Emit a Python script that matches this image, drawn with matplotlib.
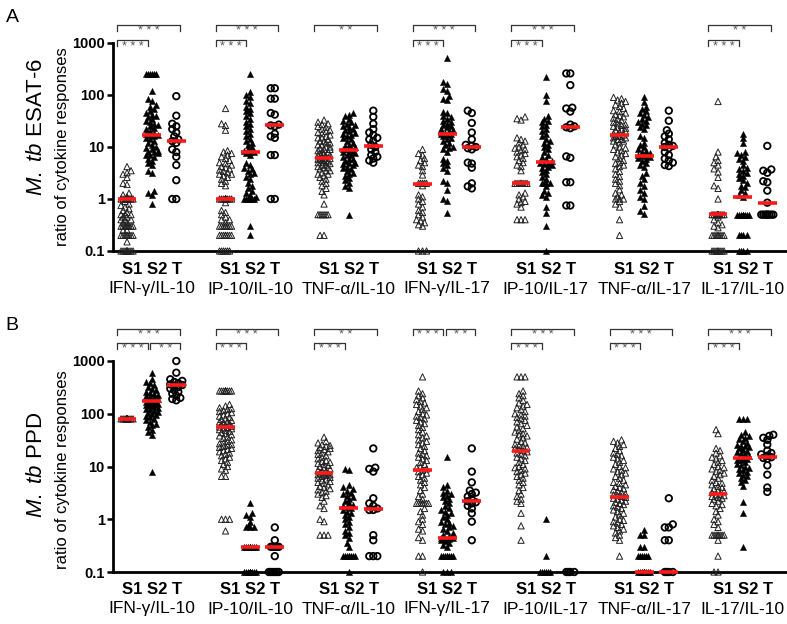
import numpy as np
import matplotlib.pyplot as plt
from matplotlib import rcParams
from matplotlib.ticker import NullLocator
from matplotlib.transforms import blended_transform_factory

rcParams["font.family"] = "Liberation Sans"
rcParams["mathtext.fontset"] = "custom"
rcParams["mathtext.rm"] = "Liberation Sans"
rcParams["mathtext.it"] = "Liberation Sans:italic"

ratios = ["IFN-γ/IL-10", "IP-10/IL-10", "TNF-α/IL-10", "IFN-γ/IL-17",
          "IP-10/IL-17", "TNF-α/IL-17", "IL-17/IL-10"]
groups = ["S1", "S2", "T"]

# ---- panel A: M. tb ESAT-6 ----
a1_s1 = [4.2, 3.5, 3.2, 3.0, 2.6, 2.0, 1.9, 1.3, 1.2, 1.1] + [1.0] * 18 + \
    [0.9, 0.8, 0.75, 0.7, 0.65, 0.6, 0.55, 0.5, 0.5, 0.5, 0.45, 0.45, 0.4, 0.4, 0.4, 0.35, 0.35] + \
    [0.3] * 8 + [0.25, 0.25] + [0.2] * 8 + [0.15] + [0.1] * 10
a1_s2 = [250] * 6 + [120, 85, 75, 65, 60, 55, 50, 45, 42, 40, 38, 35, 32, 30, 28, 26, 25, 23, 22, 20,
                     19, 18, 17, 17, 16, 15, 14, 13, 12, 11, 10, 9.5, 9, 8.5, 8, 8, 7.5, 7, 7, 6.5,
                     6, 5.5, 5, 4.5, 3.5, 3.2, 1.4, 1.3, 1.2, 0.8]
a1_t = [95, 40, 28, 25, 22, 19, 16, 14, 13, 12, 9, 8, 6.5, 4.5, 2.3, 1.0, 1.0]

a2_s1 = [55, 28, 26, 21, 8.5, 8, 7.5, 7, 6.5, 6, 5.5, 5, 4.8, 4.5, 4.2, 4, 3.8, 3.6, 3.4, 3.2, 3, 3,
         2.8, 2.6, 2.4, 2.2, 2, 1.8] + [1.0] * 18 + [0.85, 0.6, 0.55, 0.5, 0.45, 0.4, 0.4, 0.35] + \
    [0.3] * 8 + [0.2] * 8 + [0.1] * 6
a2_s2 = [250, 115, 100, 90, 75, 70, 60, 55, 50, 45, 40, 35, 30, 28, 25, 22, 20, 18, 16, 14, 13, 12,
         11, 10, 9, 8.5, 8, 8, 7.5, 7, 5, 4.5, 4, 3.8, 3.5, 3.2, 3, 2.7, 2.4, 2, 1.8, 1.6, 1.4, 1.3,
         1.2, 1.1] + [1.0] * 6 + [0.3, 0.2]
a2_t = [135, 135, 85, 85, 45, 42, 27, 26, 25, 18, 16, 15, 7, 7, 1, 1]

a3_s1 = [33, 30, 28, 27, 25, 24, 22, 21, 20, 19, 18, 17, 16, 15, 15, 14, 13, 13, 12, 12, 11, 11, 10,
         10, 9.5, 9, 9, 8.5, 8, 8, 7.5, 7.5, 7, 7, 6.5, 6.5, 6, 6, 6, 5.8, 5.5, 5.5, 5.2, 5, 5, 4.8,
         4.5, 4.5, 4.2, 4, 4, 3.8, 3.5, 3.5, 3.2, 3, 3, 2.8, 2.6, 2.4, 2.2, 2, 1.8, 1.6, 1.4, 1.2,
         0.8] + [0.5] * 6 + [0.2, 0.2]
a3_s2 = [45, 42, 40, 35, 32, 30, 28, 26, 25, 24, 22, 21, 20, 19, 18, 17, 16, 15, 14, 13, 12, 11,
         10.5, 10, 9.5, 9, 9, 8.5, 8, 8, 7.5, 7, 7, 6.5, 6, 6, 5.5, 5, 5, 4.8, 4.5, 4.2, 4, 3.8, 3.5,
         3.2, 3, 2.8, 2.5, 2.3, 2, 1.8, 1.6, 0.5]
a3_t = [50, 38, 28, 22, 19, 17, 15, 14, 13, 11, 10, 9, 8, 7, 6.5, 6, 5.5, 5]

a4_s1 = [9, 7.5, 7, 6, 5.5, 5, 4.5, 4.2, 3.5, 2.9, 2.0, 2.0, 2.0, 2.0, 2.0, 1.8, 1.2, 1.1, 1.0, 0.9,
         0.8, 0.7, 0.6, 0.55, 0.5, 0.45, 0.4, 0.38, 0.35, 0.32, 0.3, 0.1, 0.1, 0.1]
a4_s2 = [520, 180, 160, 130, 120, 95, 85, 80, 48, 45, 40, 38, 35, 32, 30, 28, 26, 25, 24, 22, 21, 20,
         19, 18, 18, 17, 16, 15, 14, 13, 12, 11, 10, 9.5, 9, 8, 6, 5.5, 5, 4.5, 4, 3.5, 2.2, 2.0, 1.5,
         1.0, 0.9, 0.55]
a4_t = [50, 45, 29, 19, 14, 11, 10.5, 10, 9.5, 9, 5, 4.8, 4, 2, 1.75, 1.6]

a5_s1 = [38, 35, 33, 15, 14, 13, 12, 11, 10, 9.5, 9, 8.5, 8, 7.5, 7, 6.5, 6, 5.5, 5, 4.5, 4.2, 3.5] + \
    [2.0] * 8 + [1.3, 1.2, 1.1, 1.0, 0.9, 0.85, 0.8, 0.7] + [0.4] * 3
a5_s2 = [220, 100, 75, 40, 35, 32, 30, 27, 25, 22, 20, 18, 16, 14, 13, 12, 11, 10, 9, 8, 7, 6.5, 6,
         5.5, 5, 5, 4.8, 4.5, 4.2, 4, 3.6, 3.3, 3, 2.7, 2.4, 2.0, 2.0, 2.0, 2.0, 1.8, 1.4, 1.3, 1.2,
         1.1, 0.7, 0.55, 0.3, 0.1]
a5_t = [260, 260, 155, 57, 55, 48, 27, 25, 24, 23, 6.6, 6.2, 2.1, 2.1, 0.75, 0.75]

a6_s1 = [90, 85, 80, 75, 70, 65, 60, 55, 50, 48, 45, 42, 40, 38, 36, 34, 32, 30, 28, 27, 26, 25, 24,
         23, 22, 21, 20, 19, 18, 17, 17, 16, 16, 15, 15, 14, 14, 13, 13, 12, 11, 10, 9.5, 9, 8.5, 8,
         7.5, 7, 6.5, 6, 5.5, 5, 4.8, 4.5, 4.2, 3.8, 3.4, 3, 2.7, 2.4, 2.2, 2, 1.8, 1.5, 1.3, 1.2,
         1.1, 1.0, 1.0, 1.0, 0.9, 0.8, 0.7, 0.4, 0.2]
a6_s2 = [90, 72, 60, 55, 50, 45, 42, 38, 35, 32, 30, 28, 26, 24, 22, 16, 15, 12, 11, 10, 9, 8.5, 8,
         7.5, 7, 7, 6.8, 6.5, 6.2, 6, 5.5, 5, 4.5, 4.2, 3.2, 2.8, 2.4, 2.0, 1.8, 1.5, 1.3, 1.1, 1.0,
         0.72, 0.58, 0.52]
a6_t = [50, 32, 21, 18, 16, 14, 12, 11, 10.5, 10, 9.5, 8, 7, 6, 5.5, 5, 4.5, 4.3]

a7_s1 = [75, 8, 6.5, 5.5, 5, 4.5, 3.8, 3.3, 2.6, 1.8, 1.6, 1.0] + [0.5] * 12 + \
    [0.45, 0.4, 0.35, 0.32, 0.3, 0.28] + [0.2] * 8 + [0.1] * 8
a7_s2 = [18, 15, 12, 8, 7.5, 7, 6.5, 6, 5.5, 4.5, 4, 3.8, 3.5, 3.2, 3, 2.8, 2.5, 2.3, 2.0, 1.8, 1.7,
         1.5, 1.3, 1.2, 1.1] + [0.5] * 10 + [0.2] * 4 + [0.1] * 4
a7_t = [10.5, 3.7, 3.5, 3.2, 2.2, 2.1, 1.45, 0.85] + [0.5] * 8

a_medians = [[1.0, 17, 13], [1.0, 7.9, 26], [6.2, 8.9, 10.5], [1.95, 17.8, 10],
             [2.0, 5.1, 24], [16.8, 6.7, 10], [0.52, 1.1, 0.84]]

# ---- panel B: M. tb PPD ----
b1_s1 = [80] * 60
b1_s2 = [580, 450, 400, 380, 350, 320, 300, 280, 260, 250, 240, 230, 220, 210, 200, 190, 180, 175,
         170, 165, 160, 155, 150, 145, 140, 135, 130, 125, 120, 115, 110, 105, 100, 95, 90, 85, 80,
         75, 70, 65, 60, 55, 50, 45, 40, 8]
b1_t = [1000, 600, 450, 420, 400, 380, 360, 350, 340, 320, 300, 280, 260, 240, 220, 200, 190, 180]

b2_s1 = [270] * 10 + [150, 140, 130, 125, 120, 115, 110, 105, 100, 95, 90, 85, 80, 78, 75, 72, 70, 68,
                      65, 62, 60, 58, 56, 55, 54, 52, 50, 48, 46, 44, 42, 40, 38, 36, 34, 32, 30, 28,
                      27, 26, 25, 24, 23, 22, 21, 20, 19, 18, 17, 16, 15, 14, 13, 12, 11, 10, 9, 8.5,
                      6.5, 6.5, 1.0, 1.0, 1.0, 0.6]
b2_s2 = [2.0, 1.3, 1.2, 1.1, 0.9, 0.75, 0.7, 0.7, 0.7] + [0.3] * 10 + [0.1] * 12
b2_t = [0.7, 0.4] + [0.3] * 5 + [0.2] + [0.1] * 6

b3_s1 = [36, 30, 28, 26, 25, 24, 23, 22, 21, 20, 19, 18, 17, 16, 15, 14, 13, 12.5, 12, 11.5, 11,
         10.5, 10, 9.5, 9, 8.5, 8, 8, 7.5, 7.5, 7.2, 7, 7, 6.8, 6.5, 6.2, 6, 5.8, 5.5, 5.2, 5, 4.8,
         4.5, 4.2, 4, 3.8, 3.6, 3.4, 3.2, 3, 2.8, 2.6, 2.2, 1.8, 1.6, 1.0, 0.9, 0.5, 0.5, 0.5]
b3_s2 = [9, 8.5, 4.5, 4, 3.8, 3.5, 3.2, 3, 2.8, 2.6, 2.4, 2.2, 2, 1.9, 1.8, 1.7, 1.6, 1.5, 1.4, 1.3,
         1.2, 1.1, 1.0, 0.9, 0.8, 0.7, 0.6, 0.55, 0.5, 0.45, 0.35, 0.3] + [0.2] * 8 + [0.1]
b3_t = [22, 9.5, 9, 8, 2.5, 2, 1.8, 1.6, 1.5, 1.5, 0.5, 0.4, 0.2, 0.2, 0.2]

b4_s1 = [500, 270, 240, 220, 200, 185, 170, 160, 150, 140, 130, 120, 110, 100, 95, 90, 85, 80, 75,
         70, 65, 60, 55, 50, 45, 40, 38, 35, 32, 30, 28, 26, 24, 22, 20, 18, 17, 16, 15, 14, 13, 12,
         11, 10, 9.5, 9, 8.5, 8, 7.5, 7, 6.5, 6, 5.5, 5, 4.5, 4, 3.5, 3, 2.7, 2.4] + [2.0] * 8 + \
    [1.6, 1.4, 1.2, 1.0, 0.9, 0.8, 0.65, 0.6, 0.45, 0.4, 0.2, 0.2, 0.1]
b4_s2 = [15, 4.5, 4, 3.5, 3.2, 3, 2.8, 2.6, 2.4, 2.2, 2, 1.8, 1.6, 1.5, 1.4, 1.3, 1.2, 1.1, 1.0, 0.9,
         0.85, 0.8, 0.75, 0.7, 0.65, 0.6, 0.55, 0.5, 0.48, 0.45, 0.45, 0.45, 0.42, 0.4, 0.38, 0.35,
         0.32, 0.3] + [0.2] * 8 + [0.1] * 3
b4_t = [22, 8, 5, 3.5, 3.2, 3, 2.7, 2.4, 2.2, 2.1, 2, 1.8, 1.6, 1.3, 0.9, 0.4]

b5_s1 = [500, 500, 500, 270, 240, 220, 200, 180, 160, 150, 140, 130, 120, 110, 100, 95, 90, 85, 80,
         75, 70, 65, 60, 56, 52, 48, 45, 42, 40, 38, 35, 33, 30, 28, 26, 25, 24, 23, 22, 21, 20, 19,
         18, 17, 16, 15, 14, 13, 12, 11, 10, 9.5, 9, 8.5, 8, 7.5, 7, 6.5, 6, 5.5, 5, 4.5, 4, 3.5, 3,
         2.7, 2.4, 2.2, 2.0, 1.3, 0.75, 0.4]
b5_s2 = [1.0, 0.2] + [0.1] * 6
b5_t = [0.1] * 4

b6_s1 = [32, 30, 28, 26, 24, 22, 20, 18, 17, 16, 15, 14, 13, 12, 11, 10, 9.5, 9, 8.5, 8, 7.5, 7, 6.5,
         6, 5.5, 5, 4.8, 4.5, 4.2, 4, 3.8, 3.6, 3.4, 3.2, 3, 2.9, 2.8, 2.7, 2.6, 2.5, 2.4, 2.3, 2.2,
         2.1, 2, 1.9, 1.8, 1.7, 1.6, 1.5, 1.4, 1.3, 1.2, 1.1, 1.0, 0.95, 0.9, 0.85, 0.8, 0.75, 0.7,
         0.65, 0.6, 0.55, 0.5, 0.45, 0.4, 0.2]
b6_s2 = [0.62, 0.5, 0.5, 0.3, 0.3, 0.2, 0.2, 0.2, 0.2, 0.2, 0.2] + [0.1] * 14
b6_t = [2.5, 0.8, 0.7, 0.7, 0.4, 0.4, 0.1, 0.1, 0.1, 0.1]

b7_s1 = [50, 42, 22, 20, 18, 16, 15, 14, 13, 12, 11, 10, 9.5, 9, 8.5, 8, 7.5, 7, 6.5, 6, 5.5, 5, 4.8,
         4.5, 4.2, 4, 3.8, 3.6, 3.4, 3.2, 3, 2.9, 2.8, 2.7, 2.6, 2.5, 2.4, 2.2, 2, 1.9, 1.8, 1.6, 1.4,
         1.2, 1.0, 0.9, 0.8, 0.7] + [0.5] * 8 + [0.4, 0.2, 0.1, 0.1]
b7_s2 = [80, 80, 80, 45, 40, 38, 35, 33, 30, 28, 26, 25, 24, 23, 22, 21, 20, 19, 18, 17, 16, 15, 14.5,
         14, 13.5, 13, 12, 11, 10.5, 10, 9.5, 9, 8.5, 8, 7.5, 7, 6.5, 6, 5.5, 5, 4.2, 2.1, 1.3, 0.3]
b7_t = [40, 38, 35, 32, 26, 20, 18, 17, 16, 15, 14.5, 14, 10.5, 7, 4, 3.3]

b_medians = [[80, 175, 350], [55, 0.3, 0.3], [7.4, 1.67, 1.55], [8.4, 0.45, 2.2],
             [19.4, None, None], [2.67, 0.1, 0.1], [2.96, 14.4, 15]]

# significance brackets: (group, from, to, level, stars)
a_sig = [(0, 0, 2, 0, "***"), (0, 0, 1, 1, "***"), (1, 0, 2, 0, "***"), (1, 0, 1, 1, "***"),
         (2, 0, 2, 0, "**"), (3, 0, 2, 0, "***"), (3, 0, 1, 1, "***"), (4, 0, 2, 0, "***"),
         (4, 0, 1, 1, "***"), (6, 0, 2, 0, "**"), (6, 0, 1, 1, "***")]
b_sig = [(0, 0, 2, 0, "***"), (0, 0, 1, 1, "***"), (0, 1, 2, 1, "**"), (1, 0, 2, 0, "***"),
         (1, 0, 1, 1, "***"), (2, 0, 2, 0, "**"), (2, 0, 1, 1, "***"), (3, 0, 1, 0, "***"),
         (3, 1, 2, 0, "**"), (4, 0, 2, 0, "***"), (4, 0, 1, 1, "***"), (5, 0, 2, 0, "***"),
         (5, 0, 1, 1, "***"), (6, 0, 2, 0, "***"), (6, 0, 1, 1, "***")]

a_cols = [[a1_s1, a1_s2, a1_t], [a2_s1, a2_s2, a2_t], [a3_s1, a3_s2, a3_t], [a4_s1, a4_s2, a4_t],
          [a5_s1, a5_s2, a5_t], [a6_s1, a6_s2, a6_t], [a7_s1, a7_s2, a7_t]]
b_cols = [[b1_s1, b1_s2, b1_t], [b2_s1, b2_s2, b2_t], [b3_s1, b3_s2, b3_t], [b4_s1, b4_s2, b4_t],
          [b5_s1, b5_s2, b5_t], [b6_s1, b6_s2, b6_t], [b7_s1, b7_s2, b7_t]]

W, H = 787, 624
marker_styles = [
    dict(marker="^", s=20, facecolors="none", edgecolors="#222222", linewidths=0.7),
    dict(marker="^", s=20, facecolors="black", edgecolors="black", linewidths=0.3),
    dict(marker="o", s=22, facecolors="none", edgecolors="black", linewidths=1.3),
]


def swarm_offsets(ax, values, d=4.0, maxw=6.0):
    vals = np.asarray(values, float)
    ypx = ax.transData.transform(np.column_stack([np.zeros_like(vals), vals]))[:, 1]
    unit = ax.transData.transform((1, 1))[0] - ax.transData.transform((0, 1))[0]
    step = d / 2
    cands = [0.0]
    k = 1
    while k * step <= maxw + 1e-9:
        cands += [-k * step, k * step]
        k += 1
    px, py = [], []
    offs = np.zeros(len(vals))
    for i in np.argsort(ypx, kind="stable"):
        best, best_d = 0.0, -1.0
        if px:
            ax_ = np.array(px)
            ay_ = np.array(py)
            for c in cands:
                dm = np.min(np.hypot(ax_ - c, ay_ - ypx[i]))
                if dm >= d:
                    best = c
                    break
                if dm > best_d:
                    best_d, best = dm, c
        offs[i] = best
        px.append(best)
        py.append(ypx[i])
    return offs / unit


def setup_axes(ax):
    ax.set_yscale("log")
    ax.set_ylim(0.1, 1000)
    ax.set_xlim(-0.57, 26.8)
    ax.set_xticks([])
    ax.yaxis.set_minor_locator(NullLocator())
    ax.set_yticks([0.1, 1, 10, 100, 1000], labels=["0.1", "1", "10", "100", "1000"],
                  fontweight="bold", fontsize=10.5)
    ax.tick_params(axis="y", direction="out", length=4, width=1.8, pad=2)
    for side in ("top", "right"):
        ax.spines[side].set_visible(False)
    for side in ("left", "bottom"):
        ax.spines[side].set_linewidth(2)


def plot_panel(ax, cols, medians):
    for g, trio in enumerate(cols):
        for k, vals in enumerate(trio):
            x0 = 4 * g + k
            offs = swarm_offsets(ax, vals)
            ax.scatter(x0 + offs, vals, clip_on=False, zorder=3, **marker_styles[k])
            m = medians[g][k]
            if m is not None:
                ax.hlines(m, x0 - 0.38, x0 + 0.38, color="#ff1a1a", lw=2.6, zorder=5,
                          clip_on=False)


def draw_brackets(ax, sig, y_top, y_low):
    tr = blended_transform_factory(ax.transData, fig.transFigure)
    for g, i, j, level, stars in sig:
        ypx = y_top if level == 0 else y_low
        xl = 4 * g + i + (-0.4 if i == 0 else -0.05)
        xr = 4 * g + j + (0.15 if j == 2 else -0.15)
        y0 = 1 - ypx / H
        y1 = 1 - (ypx + 6) / H
        ax.plot([xl, xl, xr, xr], [y1, y0, y0, y1], transform=tr, color="#333333", lw=0.9,
                clip_on=False)
        ax.text((xl + xr) / 2, 1 - (ypx + 6.5) / H, " ".join(stars), transform=tr,
                ha="center", va="center", fontsize=9, color="#555555")


def group_labels(y_grp, y_name):
    for g, name in enumerate(ratios):
        xf = (113 + (4 * g + 1 + 0.57) * (674 / 27.37)) / W
        fig.text(xf, 1 - y_grp / H, " ".join(groups), ha="center", va="center",
                 fontsize=12, fontweight="bold")
        fig.text(xf, 1 - y_name / H, name, ha="center", va="center", fontsize=12.5)


fig = plt.figure(figsize=(W / 100, H / 100), dpi=100)
ax_a = fig.add_axes([113 / W, 1 - 251 / H, 1 - 113 / W, 208 / H])
ax_b = fig.add_axes([113 / W, 1 - 572 / H, 1 - 113 / W, 211 / H])

for ax, cols, meds in ((ax_a, a_cols, a_medians), (ax_b, b_cols, b_medians)):
    setup_axes(ax)
    plot_panel(ax, cols, meds)

draw_brackets(ax_a, a_sig, 25, 40)
draw_brackets(ax_b, b_sig, 329, 343)

group_labels(270, 289)
group_labels(590, 609)

fig.text(12 / W, 1 - 18 / H, "A", ha="center", va="center", fontsize=14)
fig.text(12 / W, 1 - 325 / H, "B", ha="center", va="center", fontsize=14)
fig.text(36 / W, 1 - 127 / H, r"$\mathit{M.\ tb}$ ESAT-6", rotation=90, ha="center",
         va="center", fontsize=16)
fig.text(62 / W, 1 - 147 / H, "ratio of cytokine responses", rotation=90, ha="center",
         va="center", fontsize=12)
fig.text(36 / W, 1 - 465 / H, r"$\mathit{M.\ tb}$ PPD", rotation=90, ha="center",
         va="center", fontsize=16)
fig.text(62 / W, 1 - 470 / H, "ratio of cytokine responses", rotation=90, ha="center",
         va="center", fontsize=12)

fig.savefig("out.png", dpi=100)
